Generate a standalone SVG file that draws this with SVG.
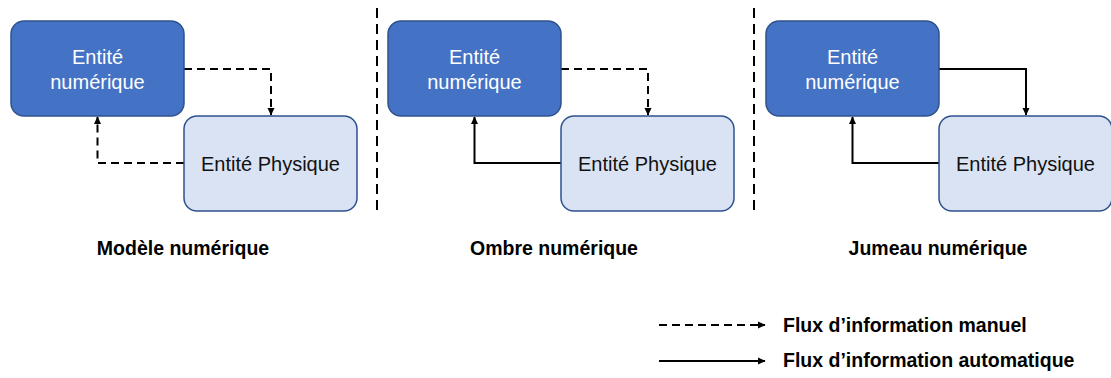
<svg xmlns="http://www.w3.org/2000/svg" width="1111" height="378" viewBox="0 0 1111 378">
<style>
.dark{fill:#4472C4;stroke:#2F528F;stroke-width:1.5}
.light{fill:#DAE3F3;stroke:#2F528F;stroke-width:1.5}
.tw{font-family:"Liberation Sans",Arial,sans-serif;font-size:20px;fill:#FFFFFF;text-anchor:middle}
.tb{font-family:"Liberation Sans",Arial,sans-serif;font-size:20px;fill:#111111;text-anchor:middle}
.lbl{font-family:"Liberation Sans",Arial,sans-serif;font-size:19.5px;font-weight:bold;fill:#000000}
.c{fill:none;stroke:#000000;stroke-width:2}
.d{stroke-dasharray:8 5}
.sep{fill:none;stroke:#000000;stroke-width:2;stroke-dasharray:10 6}
</style>
<defs>
<marker id="ah" markerWidth="8" markerHeight="8" refX="7" refY="4" orient="auto" markerUnits="userSpaceOnUse">
<path d="M0,0.5 L7.5,4 L0,7.5 Z" fill="#000000"/>
</marker>
</defs>

<g id="separators">
<line class="sep" x1="377" y1="8" x2="377" y2="212"/>
<line class="sep" x1="754" y1="8" x2="754" y2="212"/>
</g>

<g id="connectors">
<g transform="translate(0,0)">
<path class="c d" d="M184,69 H271 V115" marker-end="url(#ah)"/>
<path class="c d" d="M184,163 H97.5 V117" marker-end="url(#ah)"/>
</g>
<g transform="translate(377,0)">
<path class="c d" d="M184,69 H271 V115" marker-end="url(#ah)"/>
<path class="c" d="M184,163 H97.5 V117" marker-end="url(#ah)"/>
</g>
<g transform="translate(755,0)">
<path class="c" d="M184,69 H271 V115" marker-end="url(#ah)"/>
<path class="c" d="M184,163 H97.5 V117" marker-end="url(#ah)"/>
</g>
<path class="c d" d="M659,325 H765" marker-end="url(#ah)"/>
<path class="c" d="M659,361 H765" marker-end="url(#ah)"/>
</g>

<g id="num1">
<rect class="dark" x="11" y="21" width="173" height="95" rx="13"/>
<text class="tw" x="97.5" y="64">Entité</text>
<text class="tw" x="97.5" y="89">numérique</text>
</g>
<g id="phys1">
<rect class="light" x="184" y="116" width="173" height="95" rx="13"/>
<text class="tb" x="270.5" y="171">Entité Physique</text>
</g>

<g id="num2">
<rect class="dark" x="388" y="21" width="173" height="95" rx="13"/>
<text class="tw" x="474.5" y="64">Entité</text>
<text class="tw" x="474.5" y="89">numérique</text>
</g>
<g id="phys2">
<rect class="light" x="561" y="116" width="173" height="95" rx="13"/>
<text class="tb" x="647.5" y="171">Entité Physique</text>
</g>

<g id="num3">
<rect class="dark" x="766" y="21" width="173" height="95" rx="13"/>
<text class="tw" x="852.5" y="64">Entité</text>
<text class="tw" x="852.5" y="89">numérique</text>
</g>
<g id="phys3">
<rect class="light" x="939" y="116" width="173" height="95" rx="13"/>
<text class="tb" x="1025.5" y="171">Entité Physique</text>
</g>

<g id="labels">
<text class="lbl" x="183" y="255" text-anchor="middle">Modèle numérique</text>
<text class="lbl" x="554" y="255" text-anchor="middle">Ombre numérique</text>
<text class="lbl" x="938" y="255" text-anchor="middle">Jumeau numérique</text>
</g>

<g id="legend">
<text class="lbl" x="783" y="332">Flux d’information manuel</text>
<text class="lbl" x="783" y="367">Flux d’information automatique</text>
</g>
</svg>
